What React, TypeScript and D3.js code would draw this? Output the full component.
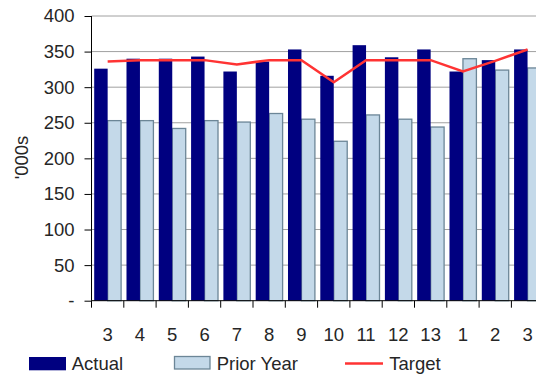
import { useEffect, useRef } from "react";
import * as d3 from "d3";

const MONTHS = ["3", "4", "5", "6", "7", "8", "9", "10", "11", "12", "13", "1", "2", "3"];
const ACTUAL = [326, 340, 340, 343, 322, 336, 353, 316, 359, 342, 353, 322, 338, 353];
const PRIOR_YEAR = [253, 253, 242, 253, 251, 263, 255, 224, 261, 255, 244, 340, 324, 327];
const TARGET = [336, 338, 338, 338, 332, 338, 338, 307, 338, 338, 338, 322, 337, 353];
const Y_TICKS = [0, 50, 100, 150, 200, 250, 300, 350, 400];

const FONT = "'Liberation Sans', Arial, sans-serif";
const FS = 18.5;
const TXT = "#262626";

export default function App() {
  const ref = useRef<SVGSVGElement | null>(null);

  useEffect(() => {
    if (!ref.current) return;
    const svg = d3.select(ref.current);
    svg.selectAll("*").remove();

    const width = 536;
    const left = 91.5;
    const step = 32.3;
    const top = 16;
    const bottom = 300.7;

    const idx = MONTHS.map((_, i) => String(i));
    const x = d3
      .scaleBand<string>()
      .domain(idx)
      .range([left, left + step * MONTHS.length])
      .padding(0);
    const x1 = d3
      .scaleBand<string>()
      .domain(["actual", "prior"])
      .range([0, x.bandwidth()])
      .paddingInner(0)
      .paddingOuter(0.2);
    const y = d3.scaleLinear().domain([0, 400]).range([bottom, top]);

    // grid
    svg
      .append("g")
      .selectAll("line")
      .data(Y_TICKS.filter((t) => t > 0))
      .enter()
      .append("line")
      .attr("x1", left)
      .attr("x2", width)
      .attr("y1", (d) => y(d))
      .attr("y2", (d) => y(d))
      .attr("stroke", "#a0a0a0")
      .attr("stroke-width", 1);

    // prior year bars
    svg
      .append("g")
      .selectAll("rect")
      .data(PRIOR_YEAR)
      .enter()
      .append("rect")
      .attr("x", (_, i) => (x(String(i)) ?? 0) + (x1("prior") ?? 0))
      .attr("y", (d) => y(d))
      .attr("width", x1.bandwidth())
      .attr("height", (d) => bottom - y(d))
      .attr("fill", "#c4d9e9")
      .attr("stroke", "#6c8697")
      .attr("stroke-width", 1.3);

    // actual bars
    svg
      .append("g")
      .selectAll("rect")
      .data(ACTUAL)
      .enter()
      .append("rect")
      .attr("x", (_, i) => (x(String(i)) ?? 0) + (x1("actual") ?? 0))
      .attr("y", (d) => y(d))
      .attr("width", x1.bandwidth())
      .attr("height", (d) => bottom - y(d))
      .attr("fill", "#000080");

    // target line
    const line = d3
      .line<number>()
      .x((_, i) => (x(String(i)) ?? 0) + x.bandwidth() / 2)
      .y((d) => y(d));
    svg
      .append("path")
      .datum(TARGET)
      .attr("d", line)
      .attr("fill", "none")
      .attr("stroke", "#ff3333")
      .attr("stroke-width", 2.5);

    // y axis
    const yAxis = svg
      .append("g")
      .attr("transform", `translate(${left},0)`)
      .call(
        d3
          .axisLeft(y)
          .tickValues(Y_TICKS)
          .tickSize(7)
          .tickPadding(10)
          .tickFormat((d) => (d === 0 ? "-" : String(d)))
      );
    yAxis.select(".domain").attr("stroke", "#000").attr("d", `M0,${top}V${bottom}`);
    yAxis.selectAll(".tick line").attr("stroke", "#000");
    yAxis
      .selectAll("text")
      .attr("font-family", FONT)
      .attr("font-size", FS)
      .attr("fill", TXT);

    // x axis
    const xAxis = svg.append("g").attr("transform", `translate(0,${bottom})`);
    xAxis
      .append("line")
      .attr("x1", left)
      .attr("x2", width)
      .attr("stroke", "#000");
    xAxis
      .selectAll("line.tick")
      .data(idx)
      .enter()
      .append("line")
      .attr("class", "tick")
      .attr("x1", (d) => x(d) ?? 0)
      .attr("x2", (d) => x(d) ?? 0)
      .attr("y1", 0)
      .attr("y2", 7)
      .attr("stroke", "#000");
    xAxis
      .selectAll("text")
      .data(idx)
      .enter()
      .append("text")
      .attr("x", (d) => (x(d) ?? 0) + x.bandwidth() / 2)
      .attr("y", 40)
      .attr("text-anchor", "middle")
      .attr("font-family", FONT)
      .attr("font-size", FS)
      .attr("fill", TXT)
      .text((d) => MONTHS[+d]);

    // y label
    svg
      .append("text")
      .attr("transform", `translate(28,157.5) rotate(-90)`)
      .attr("text-anchor", "middle")
      .attr("font-family", FONT)
      .attr("font-size", FS)
      .attr("fill", TXT)
      .text("'000s");

    // legend
    const lg = svg.append("g").attr("transform", "translate(0,363.5)");
    lg.append("rect").attr("x", 29).attr("y", -6.5).attr("width", 37).attr("height", 13.3).attr("fill", "#000080");
    lg.append("text").attr("x", 71.7).attr("y", 6.5).attr("font-family", FONT).attr("font-size", FS).attr("fill", TXT).text("Actual");
    lg.append("rect").attr("x", 174.5).attr("y", -7).attr("width", 35.5).attr("height", 12.5).attr("fill", "#c4d9e9").attr("stroke", "#6c8697").attr("stroke-width", 1.3);
    lg.append("text").attr("x", 216.7).attr("y", 6.5).attr("font-family", FONT).attr("font-size", FS).attr("fill", TXT).text("Prior Year");
    lg.append("line").attr("x1", 345).attr("x2", 383).attr("y1", 0).attr("y2", 0).attr("stroke", "#ff3333").attr("stroke-width", 2.5);
    lg.append("text").attr("x", 389.3).attr("y", 6.5).attr("font-family", FONT).attr("font-size", FS).attr("fill", TXT).text("Target");
  }, []);

  return (
    <svg
      ref={ref}
      width={536}
      height={378}
      style={{ position: "absolute", left: 0, top: 0, background: "#fff" }}
    />
  );
}
